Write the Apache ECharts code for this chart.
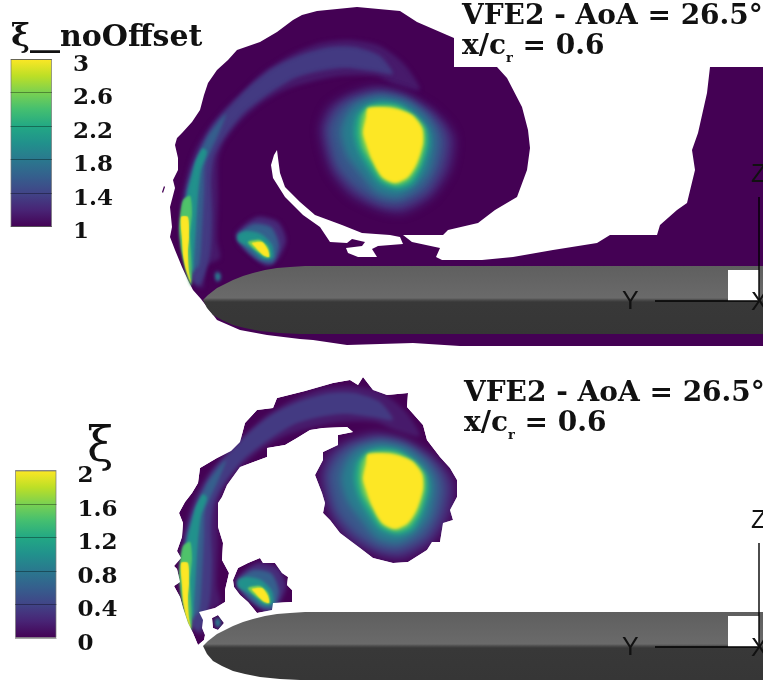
<!DOCTYPE html>
<html><head><meta charset="utf-8">
<style>html,body{margin:0;padding:0;background:#fff}#c{width:763px;height:690px}</style>
<script src="https://cdn.jsdelivr.net/npm/echarts@6/dist/echarts.min.js"></script>
</head><body><div id="c"></div>
<script>
// ---- colour-bar data
const ticksTop = [1, 1.4, 1.8, 2.2, 2.6, 3];
const ticksBottom = [0, 0.4, 0.8, 1.2, 1.6, 2];
const viridisStops = ['#440154','#482475','#414487','#355f8d','#2a788e','#21918c','#22a884','#44bf70','#7ad151','#bddf26','#fde725'];

// ---- outlines (section-plane coordinates)
const domainTop = [[201,299],[193,290],[188,280],[182,267],[175,250],[170,237],[172,227],[170,207],[175,188],[173,180],[178,170],[178,158],[175,145],[177,138],[182,133],[192,122],[200,110],[204,95],[208,83],[217,70],[228,60],[237,50],[260,42],[277,32],[293,20],[302,15],[317,11],[357,7],[400,11],[417,22],[447,35],[454,38],[454,67],[763,67],[763,346],[460,346],[413,343],[347,345],[313,340],[300,339],[267,335],[240,330],[217,320]];
const holeLarge = [[497,67],[507,78],[522,107],[528,130],[530,148],[527,170],[517,197],[495,210],[478,223],[448,230],[443,235],[403,235],[412,242],[440,248],[436,257],[442,260],[482,260],[513,257],[553,250],[597,243],[610,235],[657,235],[660,225],[677,210],[687,203],[695,170],[692,150],[698,133],[707,93],[710,67]];
const holeCrescent = [[277,150],[278,158],[280,173],[285,187],[300,202],[315,215],[342,225],[362,233],[390,235],[400,237],[403,244],[378,246],[372,249],[377,257],[358,257],[348,253],[346,248],[362,246],[365,242],[352,239],[347,243],[330,242],[320,227],[303,215],[285,197],[273,178],[271,165],[274,155]];
const speck = [[164,186],[165,187],[163,193],[162,192]];

const maskFilament = [[198,299],[193,287],[188,277],[183,262],[180,251],[174,240],[180,236],[177,223],[174,220],[181,212],[177,205],[182,191],[183,177],[179,167],[185,156],[192,147],[198,137],[200,122],[217,112],[231,105],[240,96],[245,77],[257,64],[273,62],[277,52],[305,45],[333,37],[350,34],[358,39],[363,31],[373,44],[387,49],[408,47],[407,61],[423,79],[427,94],[440,111],[450,122],[457,134],[457,151],[450,164],[453,174],[443,177],[440,196],[432,196],[427,204],[408,216],[393,217],[373,212],[360,202],[340,187],[330,174],[323,167],[325,157],[322,147],[315,129],[323,114],[323,106],[338,99],[338,89],[353,86],[347,81],[323,82],[310,84],[297,92],[285,99],[267,102],[267,111],[240,121],[227,139],[222,151],[218,157],[218,181],[223,197],[222,214],[229,227],[225,244],[225,256],[215,262],[199,266],[203,274],[202,282],[205,289],[204,294]];
const maskSecondary = [[233,234],[238,222],[248,217],[260,212],[263,217],[275,217],[282,227],[288,231],[287,239],[292,244],[292,256],[273,257],[272,264],[257,267],[253,262],[248,256],[240,249],[234,241]];
const maskSpot = [[212,272],[218,269],[224,277],[218,284],[213,282]];

// ---- contour layers: level on the colour scale, then outline
const filamentLayers = [
 [0.07,[[194,285],[185,257],[180,230],[182,197],[188,170],[195,150],[208,128],[226,107],[246,88],[263,72],[290,55],[320,43],[350,40],[380,46],[405,65],[420,90],[395,84],[375,76],[340,76],[310,82],[285,90],[262,103],[240,122],[224,143],[218,160],[218,197],[217,240],[220,258],[206,266],[203,288]]],
 [0.17,[[192,280],[186,250],[184,225],[185,195],[191,170],[199,150],[213,125],[233,103],[251,85],[273,68],[300,55],[330,47],[355,47],[380,56],[393,74],[372,71],[345,68],[320,71],[295,78],[270,93],[245,112],[225,136],[214,157],[211,180],[212,215],[210,255],[200,285]]],
 [0.3,[[192,270],[187,245],[185,215],[187,190],[192,172],[199,155],[208,136],[226,114],[218,135],[211,150],[205,165],[204,190],[202,230],[199,265]]],
 [0.5,[[188,258],[185,220],[187,195],[192,175],[196,160],[203,148],[207,152],[201,170],[198,195],[196,225],[194,258],[193,274]]],
 [0.72,[[183,200],[190,196],[192,212],[190,235],[191,255],[192,275],[191,286],[186,272],[181,250],[179,230],[180,215]]],
 [1,[[181,217],[188,217],[189,237],[188,252],[189,272],[191,283],[186,270],[183,255],[182,240]]]
];
const coreLayers = [
 [0.12,[[320,130],[328,108],[345,96],[373,87],[400,92],[430,108],[448,125],[455,140],[450,170],[432,197],[403,213],[380,210],[350,195],[330,170]]],
 [0.27,[[328,130],[336,112],[350,100],[380,92],[405,97],[428,112],[441,128],[445,143],[440,168],[426,191],[399,205],[378,202],[354,187],[336,165]]],
 [0.42,[[341,133],[346,116],[358,103],[380,97],[405,102],[423,115],[433,130],[435,145],[429,171],[415,188],[397,197],[377,192],[361,174],[347,155]]],
 [0.6,[[354,133],[357,116],[367,106],[382,102],[400,105],[416,117],[427,130],[429,145],[422,168],[412,184],[397,189],[380,183],[367,166],[358,150]]],
 [0.8,[[360,133],[362,116],[368,108],[382,106],[396,107],[414,116],[424,128],[425,144],[419,165],[409,180],[396,185],[382,179],[371,162],[363,148]]],
 [1,[[363,133],[366,117],[368,108],[393,108],[412,115],[422,128],[423,143],[417,163],[408,177],[395,183],[382,177],[372,160],[367,147]]]
];
const secondLayers = [
 [0.12,[[236,233],[257,217],[278,222],[286,240],[278,259],[267,266],[250,254],[239,244]]],
 [0.3,[[238,236],[253,224],[271,227],[279,245],[273,263],[260,261],[247,251]]],
 [0.5,[[238,234],[247,231],[261,234],[272,245],[273,258],[263,259],[250,248],[238,241]]],
 [0.8,[[248,242],[260,240],[268,247],[270,257],[265,257],[253,248]]],
 [1,[[252,243],[262,242],[268,250],[269,257],[263,255],[255,247]]],
 [0.3,[[215,273],[219,272],[221,278],[217,282]]],
 [0.45,[[216,275],[219,274],[219,279],[217,280]]]
];

const wingOutline = [[203,300],[208,295],[217,288],[225,284],[233,280],[243,276],[253,273],[265,270],[277,268],[290,267],[305,266],[763,266],[763,334],[300,334],[280,333],[260,331],[245,328],[233,325],[222,320],[213,315],[207,308]];
const squareMark = [[728,270],[759,270],[759,301],[728,301]];
const axisZ = [[759,197],[759,301]];
const axisY = [[655,301],[759,301]];
const frame = [[0,0],[763,0],[763,344],[0,344]];

// ---- helpers
function hexMix(t){
  const s=Math.min(.9999,Math.max(0,t))*10, i=Math.floor(s), f=s-i;
  const p=h=>[1,3,5].map(k=>parseInt(h.substr(k,2),16));
  const a=p(viridisStops[i]), b=p(viridisStops[i+1]);
  return 'rgb('+a.map((v,k)=>Math.round(v+(b[k]-v)*f)).join(',')+')';
}
function area(m){let s=0;m.forEach((p,i)=>{const q=m[(i+1)%m.length];s+=p[0]*q[1]-q[0]*p[1];});return s;}
function poly(pts, style, panel, opt){
  opt = opt||{};
  const off = opt.offscreen||0;
  return {
    type:'custom', coordinateSystem:'cartesian2d', xAxisIndex:panel, yAxisIndex:panel,
    silent:true, animation:false, clip:false, data:pts,
    renderItem:(params,api)=>{
      if(params.dataIndex!==0) return null;
      return {type:opt.line?'polyline':'polygon',
        shape:{points:pts.map(p=>{const c=api.coord(p);return [c[0]-off,c[1]];}), smooth:opt.smooth||0},
        style:Object.assign({},style)};
    }
  };
}
const white={fill:'#fff'}, purple={fill:'#440154'};
const wingFill=new echarts.graphic.LinearGradient(0,0,0,1,[
  {offset:0,color:'#5f5f5f'},{offset:.47,color:'#6a6a6a'},{offset:.5,color:'#4c4c4c'},{offset:.53,color:'#383838'},{offset:1,color:'#363636'}]);
// each layer is painted as a pure blurred shape, so that stacked levels melt into a smooth field
function contours(panel){
  const shift=3000;
  const all=[].concat(
    filamentLayers.map(l=>[l[0],l[1],0.45]),
    coreLayers.map(l=>[l[0],l[1],1]),
    secondLayers.map(l=>[l[0],l[1],0.5])
  ).sort((a,b)=>a[0]-b[0]);
  return all.map(c=>{
    const col=hexMix(c[0]);
    return poly(c[1],{fill:col,shadowColor:col,shadowBlur:c[2]*(10-7*c[0]),shadowOffsetX:shift},panel,{smooth:.25,offscreen:shift});
  });
}
// white sheet with the plotted patches cut out of it (keyhole polygon)
function cutout(masks){
  let pts=frame.concat([frame[0]]);
  const dir=area(frame);
  masks.forEach(m=>{
    const r=(area(m)*dir>0)?m.slice().reverse():m;
    pts=pts.concat(r,[r[0]],[frame[0]]);
  });
  return pts;
}
function body(panel){
  return [
    poly(wingOutline,{fill:wingFill},panel),
    poly(squareMark,white,panel),
    poly(axisZ,{stroke:'#000',lineWidth:1.4,fill:null},panel,{line:true}),
    poly(axisY,{stroke:'#000',lineWidth:1.4,fill:null},panel,{line:true})
  ];
}
function barGradient(){
  return new echarts.graphic.LinearGradient(0,0,0,1,viridisStops.slice().reverse().map((c,i)=>({offset:i/10,color:c})));
}
const serif='"DejaVu Serif"';
function colorbar(i,ticks,top,left){
  return {
    grid:{left:left,top:top,width:41.5,height:167.5,show:false},
    xAxis:{gridIndex:i,type:'category',data:['bar'],show:false},
    yAxis:{gridIndex:i,type:'value',min:ticks[0],max:ticks[5],interval:0.4,z:5,
      axisLine:{show:false},axisTick:{show:false},
      splitLine:{show:true,lineStyle:{color:'rgba(0,0,0,0.35)',width:1}},
      position:'right',
      axisLabel:{show:true,inside:false,margin:21,color:'#111',fontFamily:serif,fontWeight:'bold',fontSize:23,
        verticalAlign:'top',lineHeight:12,formatter:v=>String(Math.round(v*10)/10)}}
  };
}
const cbA=colorbar(2,ticksTop,59,10.5), cbB=colorbar(3,ticksBottom,470.5,15);
const hiddenX=(i)=>({gridIndex:i,type:'value',min:0,max:763,show:false});
const hiddenY=(i,h)=>({gridIndex:i,type:'value',min:0,max:h,inverse:true,show:false});
function barSeries(i,ticks){
  return {type:'bar',xAxisIndex:i,yAxisIndex:i,data:[ticks[5]],barWidth:'100%',silent:true,animation:false,
    itemStyle:{color:barGradient(),borderColor:'rgba(120,120,120,0.7)',borderWidth:1}};
}
const titleStyle={fontFamily:serif,fontWeight:'bold',fontSize:28,color:'#111'};
function mainTitle(x,y,x2,y2){
  return [
   {left:x,top:y,padding:0,text:'VFE2 - AoA = 26.5°',textStyle:titleStyle},
   {left:x2,top:y2,padding:0,text:'{a|x/c}{s|r}{a| = 0.6}',textStyle:{rich:{
      a:{fontFamily:serif,fontWeight:'bold',fontSize:28,color:'#111',lineHeight:32,verticalAlign:'top'},
      s:{fontFamily:serif,fontWeight:'bold',fontSize:13,color:'#111',lineHeight:32,verticalAlign:'bottom'}}}}
  ];
}
function sans(t,x,y){ return {left:x,top:y,padding:0,text:t,textStyle:{fontFamily:'"Liberation Sans"',fontSize:25,fontWeight:'normal',color:'#111'}}; }

const option={
  backgroundColor:'#fff',animation:false,
  grid:[{left:0,top:0,width:763,height:346,show:false},{left:0,top:346,width:763,height:344,show:false},cbA.grid,cbB.grid],
  xAxis:[hiddenX(0),hiddenX(1),cbA.xAxis,cbB.xAxis],
  yAxis:[hiddenY(0,346),hiddenY(1,344),cbA.yAxis,cbB.yAxis],
  title:[
    {left:11,top:22,padding:0,text:'{x|ξ}{b|__noOffset}',textStyle:{rich:{
      x:{fontFamily:serif,fontSize:32,color:'#111'},
      b:{fontFamily:serif,fontWeight:'bold',fontSize:30,color:'#111'}}}},
    {left:87,top:425,padding:0,text:'ξ',textStyle:{fontFamily:serif,fontSize:48,fontWeight:'normal',color:'#111'}},
    ...mainTitle(462,3,462,33),
    ...mainTitle(464,380,464,410),
    sans('Z',751,163),sans('Y',622,290),sans('X',751,291),
    sans('Z',751,509),sans('Y',622,636),sans('X',751,637)
  ],
  series:[
    poly(domainTop,purple,0),
    poly(speck,purple,0),
    ...contours(0),
    poly(holeLarge,white,0),
    poly(holeCrescent,white,0),
    ...body(0),
    poly(maskFilament,purple,1),
    poly(maskSecondary,purple,1),
    poly(maskSpot,purple,1),
    ...contours(1),
    poly(cutout([maskFilament,maskSecondary,maskSpot]),white,1),
    ...body(1),
    barSeries(2,ticksTop),
    barSeries(3,ticksBottom)
  ]
};
echarts.init(document.getElementById('c'),null,{renderer:'canvas'}).setOption(option);
</script></body></html>
